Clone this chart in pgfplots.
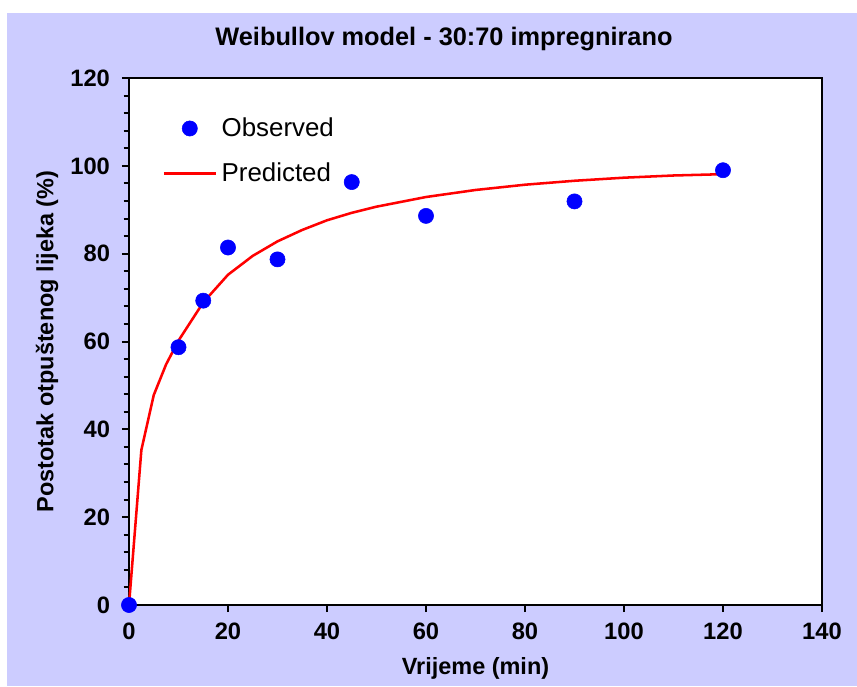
\documentclass[border=0pt]{standalone}
\usepackage{fontspec}
\setmainfont{Liberation Sans}
\usepackage{pgfplots}
\pgfplotsset{compat=1.18}
\definecolor{chartbg}{RGB}{204,204,255}
\definecolor{obsblue}{RGB}{0,0,255}
\definecolor{predred}{RGB}{255,0,0}
\pgfplotsset{
    obs legend/.style={legend image code/.code={\draw[mark repeat=2,mark phase=2,##1]
        plot coordinates {(0pt,0pt) (19.5pt,0pt) (39pt,0pt)};}},
    pred legend/.style={legend image code/.code={\draw[##1] (0pt,0pt) -- (39pt,0pt);}},
}

\begin{document}
\begin{tikzpicture}
\useasboundingbox (-96.75pt,-60.75pt) rectangle (546pt,453.75pt);
\fill[chartbg] (-91.5pt,-60.75pt) rectangle (546pt,444pt);
\begin{axis}[
    scale only axis,
    width=519.75pt, height=395.25pt,
    xmin=0, xmax=140,
    ymin=0, ymax=120,
    xtick={0,20,...,140},
    ytick={0,20,...,120},
    minor y tick num=4,
    tick align=outside,
    xtick pos=left, ytick pos=left,
    major tick length=5.25pt,
    minor tick length=4pt,
    every tick/.style={black, line width=1.5pt},
    axis line style={black, line width=2.1pt},
    axis background/.style={fill=white},
    clip=false,
    /pgf/number format/assume math mode=true,
    ticklabel style={font=\bfseries\fontsize{17.8}{20}\selectfont},
    xticklabel style={yshift=-4.5pt},
    yticklabel style={xshift=-5.5pt},
    title={Weibullov model - 30:70 impregnirano},
    title style={at={(axis description cs:0.4545,1.0588)}, anchor=center,
        font=\bfseries\fontsize{19}{22}\selectfont},
    xlabel={Vrijeme (min)},
    xlabel style={at={(axis description cs:0.5,-0.1195)}, anchor=center,
        font=\bfseries\fontsize{17.6}{20}\selectfont},
    ylabel={Postotak otpuštenog lijeka (\%)},
    ylabel style={at={(axis description cs:-0.1183,0.5)}, anchor=center,
        font=\bfseries\fontsize{17.6}{20}\selectfont},
    legend style={at={(axis description cs:0.048,0.8615)}, anchor=west,
        draw=none, fill=none, inner sep=0pt, row sep=14.2pt,
        font=\fontsize{19.4}{22}\selectfont,
        /tikz/every odd column/.append style={column sep=1.5pt}},
    legend cell align=left,
]

\addplot[
    only marks,
    mark=*,
    mark size=5.7pt,
    color=obsblue,
    obs legend,
    ]
    coordinates {
    (0,0)(10,58.7)(15,69.3)(20,81.4)(30,78.7)(45,96.3)(60,88.6)(90,91.9)(120,99.0)
    };

\addplot[
    color=predred,
    line width=1.9pt,
    mark=none,
    pred legend,
    ]
    coordinates {
    (0,0)(2.5,35.3)(5,47.8)(7.5,54.8)(10,60.2)(15,68.9)(20,75.2)(25,79.5)
    (30,82.8)(35,85.4)(40,87.6)(45,89.3)(50,90.7)(60,92.9)(70,94.5)
    (80,95.7)(90,96.6)(100,97.3)(110,97.8)(120,98.1)
    };

\legend{Observed, Predicted}

\end{axis}
\end{tikzpicture}
\end{document}
